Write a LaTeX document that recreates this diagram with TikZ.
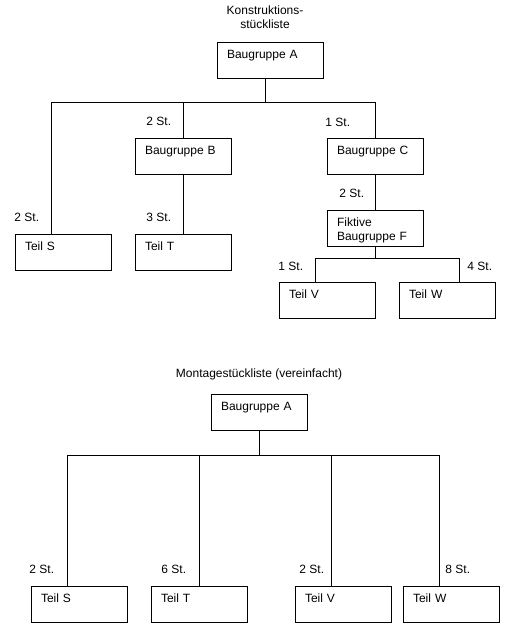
\documentclass[tikz,border=0pt]{standalone}
\usepackage{fontspec}
\setmainfont{Liberation Sans}
\tikzset{
  every picture/.style={x=1pt, y=-1pt, line width=0.9pt, line cap=rect,
    font=\fontsize{12}{14.3}\selectfont},
  part/.style={draw, anchor=north west, outer sep=0pt, inner xsep=10pt, inner ysep=0pt,
    text width=76pt, align=left, text height=16.3pt, text depth=19.7pt},
  qty/.style={anchor=west, inner sep=0pt},
}

\begin{document}
\begin{tikzpicture}
\useasboundingbox[fill=white] (0,0) rectangle (506,629);
% Konstruktionsstueckliste
\node[align=center] (ktitle) at (265,17) {Konstruktions-\\st\"uckliste};
\node[part, text width=86pt] (kA) at (217,42) {Baugruppe A};
\node[part] (kB) at (135,138) {Baugruppe B};
\node[part] (kC) at (327,138) {Baugruppe C};
\node[part] (kS) at (15,234) {Teil S};
\node[part] (kT) at (135,234) {Teil T};
\node[part] (kF) at (327,210) {Fiktive\\Baugruppe F};
\node[part] (kV) at (279,282) {Teil V};
\node[part] (kW) at (399,282) {Teil W};
\coordinate (kJ) at (265,102);
\coordinate (kL) at (51,102);
\coordinate (kR) at (375,102);
\coordinate (fL) at (315,258);
\coordinate (fR) at (459,258);
\draw (kJ |- kA.south) -- (kJ);
\draw (kL |- kS.north) -- (kL) -- (kR) -- (kR |- kC.north);
\draw (kB.north) -- (kB.north |- kL);
\draw (kB.south) -- (kT.north);
\draw (kC.south) -- (kF.north);
\draw (kF.south) -- (kF.south |- fL);
\draw (fL |- kV.north) -- (fL) -- (fR) -- (fR |- kW.north);
\node[qty] (qB) at (146,121) {2 St.};
\node[qty] (qC) at (325,122) {1 St.};
\node[qty] (qS) at (14,217) {2 St.};
\node[qty] (qT) at (146,217) {3 St.};
\node[qty] (qF) at (339,193) {2 St.};
\node[qty] (qV) at (278,266) {1 St.};
\node[qty] (qW) at (467,266) {4 St.};
% Montagestueckliste
\node (mtitle) at (259,374) {Montagest\"uckliste (vereinfacht)};
\node[part] (mA) at (211,394) {Baugruppe A};
\node[part] (mS) at (31,586) {Teil S};
\node[part] (mT) at (151,586) {Teil T};
\node[part] (mV) at (295,586) {Teil V};
\node[part] (mW) at (403,586) {Teil W};
\coordinate (mL) at (67,455);
\coordinate (mR) at (439,455);
\coordinate (mJ) at (331,455);
\draw (mA.south) -- (mA.south |- mL);
\draw (mL |- mS.north) -- (mL) -- (mR) -- (mR |- mW.north);
\draw (mT.north) -- (mT.north |- mL);
\draw (mJ) -- (mJ |- mV.north);
\node[qty] (pS) at (29,569) {2 St.};
\node[qty] (pT) at (161,569) {6 St.};
\node[qty] (pV) at (299,569) {2 St.};
\node[qty] (pW) at (445,569) {8 St.};
\end{tikzpicture}
\end{document}
